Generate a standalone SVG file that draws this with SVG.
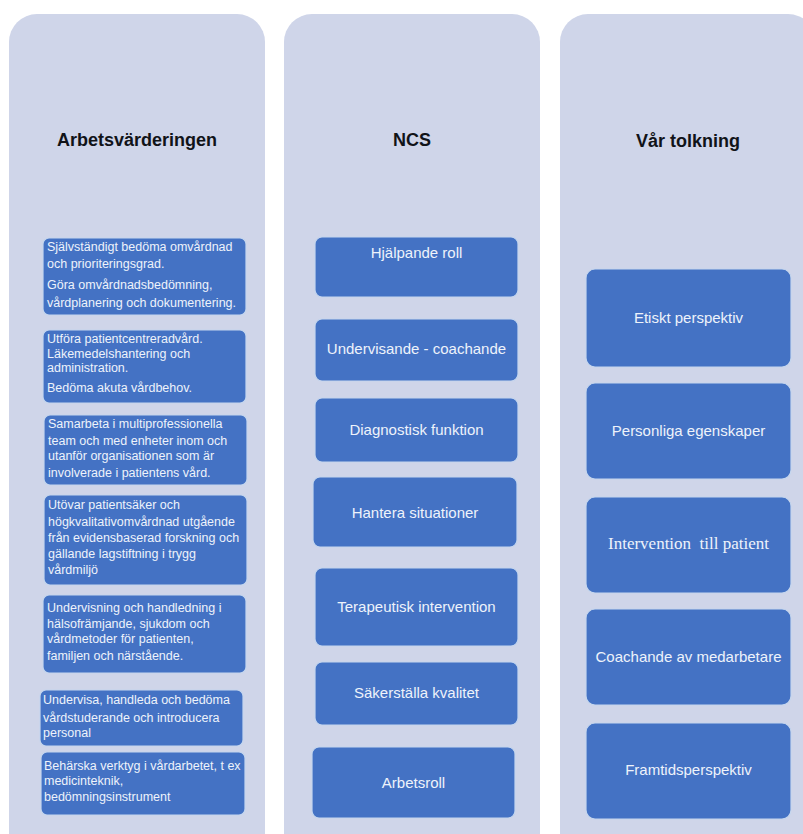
<svg xmlns="http://www.w3.org/2000/svg" width="803" height="834" viewBox="0 0 803 834">
<style>
.col{fill:#CFD5E9;}
.head{font-family:"Liberation Sans",Arial,sans-serif;font-weight:bold;font-size:18px;fill:#111318;text-anchor:middle;}
.box{fill:#4472C4;stroke:#C5D6EE;stroke-width:1.2;}
.lt{font-family:"Liberation Sans",Arial,sans-serif;font-size:12.5px;fill:#EEF3FB;}
.ct{font-family:"Liberation Sans",Arial,sans-serif;font-size:15px;fill:#EEF3FB;text-anchor:middle;}
.st{font-family:"Liberation Serif","Times New Roman",serif;font-size:17px;fill:#EEF3FB;text-anchor:middle;}
</style>
<rect width="803" height="834" fill="#FFFFFF"/>
<g id="col-arbetsvarderingen">
<rect class="col" x="9" y="14" width="256" height="860" rx="28"/>
<text class="head" x="137" y="146">Arbetsvärderingen</text>
</g>
<g id="col-ncs">
<rect class="col" x="284" y="14" width="256" height="860" rx="28"/>
<text class="head" x="412" y="146">NCS</text>
</g>
<g id="col-var-tolkning">
<rect class="col" x="560" y="14" width="256" height="860" rx="28"/>
<text class="head" x="688" y="147">Vår tolkning</text>
</g>
<g id="connectors"/>
<g id="a1">
<rect class="box" x="43" y="238" width="203" height="77" rx="6"/>
<text class="lt" x="47" y="251">Självständigt bedöma omvårdnad</text>
<text class="lt" x="47" y="268">och prioriteringsgrad.</text>
<text class="lt" x="47" y="289">Göra omvårdnadsbedömning,</text>
<text class="lt" x="47" y="307">vårdplanering och dokumentering.</text>
</g>
<g id="a2">
<rect class="box" x="43" y="330" width="203" height="73" rx="6"/>
<text class="lt" x="47" y="343">Utföra patientcentreradvård.</text>
<text class="lt" x="47" y="358">Läkemedelshantering och</text>
<text class="lt" x="47" y="372">administration.</text>
<text class="lt" x="47" y="392">Bedöma akuta vårdbehov.</text>
</g>
<g id="a3">
<rect class="box" x="44" y="415" width="203" height="70" rx="6"/>
<text class="lt" x="48" y="428">Samarbeta i multiprofessionella</text>
<text class="lt" x="48" y="445">team och med enheter inom och</text>
<text class="lt" x="48" y="460">utanför organisationen som är</text>
<text class="lt" x="48" y="477">involverade i patientens vård.</text>
</g>
<g id="a4">
<rect class="box" x="44" y="495" width="203" height="90" rx="6"/>
<text class="lt" x="48" y="509">Utövar patientsäker och</text>
<text class="lt" x="48" y="526">högkvalitativomvårdnad utgående</text>
<text class="lt" x="48" y="542">från evidensbaserad forskning och</text>
<text class="lt" x="48" y="558">gällande lagstiftning i trygg</text>
<text class="lt" x="48" y="574">vårdmiljö</text>
</g>
<g id="a5">
<rect class="box" x="43" y="595" width="203" height="78" rx="6"/>
<text class="lt" x="47" y="612">Undervisning och handledning i</text>
<text class="lt" x="47" y="628">hälsofrämjande, sjukdom och</text>
<text class="lt" x="47" y="643">vårdmetoder för patienten,</text>
<text class="lt" x="47" y="660">familjen och närstående.</text>
</g>
<g id="a6">
<rect class="box" x="40" y="690" width="203" height="56" rx="6"/>
<text class="lt" x="43" y="704">Undervisa, handleda och bedöma</text>
<text class="lt" x="43" y="722">vårdstuderande och introducera</text>
<text class="lt" x="43" y="737">personal</text>
</g>
<g id="a7">
<rect class="box" x="41" y="752" width="204" height="63" rx="6"/>
<text class="lt" x="44" y="770">Behärska verktyg i vårdarbetet, t ex</text>
<text class="lt" x="44" y="785">medicinteknik,</text>
<text class="lt" x="44" y="801">bedömningsinstrument</text>
</g>
<g id="n1">
<rect class="box" x="315" y="237" width="203" height="60" rx="7"/>
<text class="ct" x="416.5" y="258">Hjälpande roll</text>
</g>
<g id="n2">
<rect class="box" x="315" y="319" width="203" height="62" rx="7"/>
<text class="ct" x="416.5" y="354">Undervisande - coachande</text>
</g>
<g id="n3">
<rect class="box" x="315" y="398" width="203" height="64" rx="7"/>
<text class="ct" x="416.5" y="435">Diagnostisk funktion</text>
</g>
<g id="n4">
<rect class="box" x="313" y="477" width="204" height="70" rx="7"/>
<text class="ct" x="415" y="518">Hantera situationer</text>
</g>
<g id="n5">
<rect class="box" x="315" y="568" width="203" height="78" rx="7"/>
<text class="ct" x="416.5" y="612">Terapeutisk intervention</text>
</g>
<g id="n6">
<rect class="box" x="315" y="662" width="203" height="63" rx="7"/>
<text class="ct" x="416.5" y="698">Säkerställa kvalitet</text>
</g>
<g id="n7">
<rect class="box" x="312" y="747" width="203" height="71" rx="7"/>
<text class="ct" x="413.5" y="788">Arbetsroll</text>
</g>
<g id="v1">
<rect class="box" x="586" y="269" width="205" height="98" rx="9"/>
<text class="ct" x="688.5" y="323">Etiskt perspektiv</text>
</g>
<g id="v2">
<rect class="box" x="586" y="383" width="205" height="96" rx="9"/>
<text class="ct" x="688.5" y="436">Personliga egenskaper</text>
</g>
<g id="v3">
<rect class="box" x="586" y="497" width="205" height="96" rx="9"/>
<text class="st" x="688.5" y="549" xml:space="preserve">Intervention  till patient</text>
</g>
<g id="v4">
<rect class="box" x="586" y="609" width="205" height="96" rx="9"/>
<text class="ct" x="688.5" y="662">Coachande av medarbetare</text>
</g>
<g id="v5">
<rect class="box" x="586" y="723" width="205" height="96" rx="9"/>
<text class="ct" x="688.5" y="775">Framtidsperspektiv</text>
</g>
</svg>
